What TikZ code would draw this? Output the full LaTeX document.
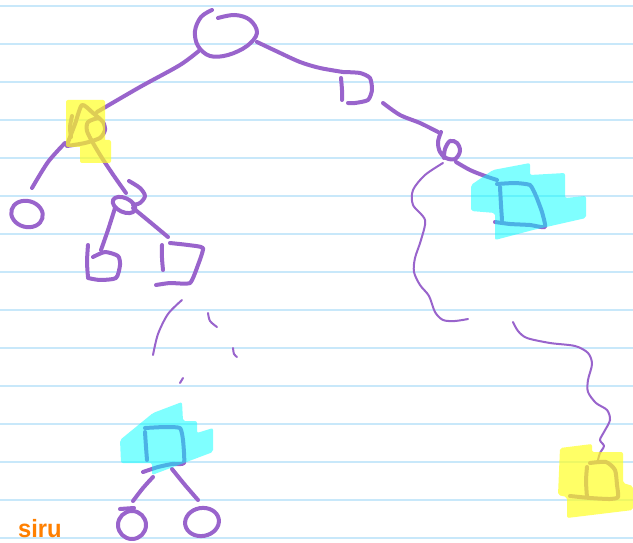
\documentclass[tikz,border=0pt]{standalone}
\usepackage{fontspec}
\newfontfamily\handfont{Liberation Sans}
\definecolor{ink}{RGB}{153,100,204}
\definecolor{rule}{RGB}{200,232,250}
\definecolor{hlyellow}{RGB}{255,255,30}
\definecolor{hlcyan}{RGB}{0,255,255}
\definecolor{sig}{RGB}{255,128,0}
\tikzset{
  pen/.style={draw=ink, line width=4pt, line cap=round, line join=round},
  thinpen/.style={draw=ink, line width=2pt, line cap=round, line join=round},
  ruling/.style={draw=rule, line width=1.5pt},
  hly/.style={fill=hlyellow, fill opacity=0.68, rounded corners=2pt},
  hlc/.style={fill=hlcyan, fill opacity=0.5, rounded corners=2pt},
}
\begin{document}
\begin{tikzpicture}[x=1pt,y=-1pt]
\useasboundingbox (0,0) rectangle (633,543);
\fill[white] (0,0) rectangle (633,543);
% ruled lines
\foreach \k in {0,...,14} { \draw[ruling] (0,{6+38*\k}) -- (633,{6+38*\k}); }

% root
\draw[pen] plot[smooth, tension=0.6] coordinates {(212,10)(201,17)(195,31)(198,46)(210,56)(228,55)(247,46)(257,33)(250,20)(235,15)(218,18)};
% root -> A
\draw[pen] plot[smooth] coordinates {(200,50)(180,65)(140,87)(97,112)};
% A
\draw[pen] plot[smooth] coordinates {(72,116)(70,127)(71,137)};
\draw[pen] plot[smooth, tension=0.4] coordinates {(67,145)(75,124)(82,105)(93,113)(103,122)(105,130)(100,138)(85,143)(67,146)};
\draw[pen] plot[smooth] coordinates {(98,118)(88,122)(87,131)(93,143)(102,158)(114,176)(126,193)};
% A -> LL
\draw[pen] plot[smooth] coordinates {(65,143)(48,162)(32,188)};
% LL
\draw[pen] (27,214) ellipse[x radius=16, y radius=13, rotate=-15];
% B
\draw[pen] (124,205) ellipse[x radius=12, y radius=7, rotate=-25];
\draw[pen] plot[smooth] coordinates {(129,181)(140,188)(145,196)(140,203)(133,205)};
% B -> BL, B -> BR
\draw[pen] plot[smooth] coordinates {(115,208)(108,230)(101,250)};
\draw[pen] plot[smooth] coordinates {(133,208)(150,222)(168,237)};
% BL
\draw[pen] plot[smooth] coordinates {(88,245)(87,262)(88,277)};
\draw[pen] plot[smooth, tension=0.4] coordinates {(93,257)(105,252)(118,256)(120,265)(116,278)(100,280)(88,278)};
% BR
\draw[pen] plot[smooth] coordinates {(162,245)(162,258)(163,270)};
\draw[pen] plot[smooth, tension=0.3] coordinates {(170,243)(188,245)(203,248)(198,265)(190,283)(170,283)(156,285)};
% broken strokes below BR
\draw[thinpen] plot[smooth] coordinates {(182,300)(168,314)(158,334)(153,355)};
\draw[thinpen] plot[smooth] coordinates {(208,313)(210,321)(217,327)};
\draw[thinpen] plot[smooth] coordinates {(233,348)(234,354)(237,357)};
\draw[thinpen] (180,383) -- (183,378);
% G
\draw[pen] plot[smooth] coordinates {(145,432)(146,447)(147,460)};
\draw[pen] plot[smooth, tension=0.3] coordinates {(145,428)(165,427)(180,428)(183,440)(184,463)(172,464)(158,467)(143,472)};
% G -> GL, G -> GR
\draw[pen] plot[smooth] coordinates {(153,477)(143,488)(133,501)};
\draw[pen] plot[smooth] coordinates {(172,469)(185,485)(198,500)};
% GL, GR
\draw[pen] (132,525) ellipse[x radius=14, y radius=14];
\draw[pen] (120,509) -- (134,508);
\draw[pen] (202,522) ellipse[x radius=17, y radius=14, rotate=10];

% root -> C
\draw[pen] plot[smooth] coordinates {(257,42)(276,51)(300,62)(320,68)(343,72)};
% C
\draw[pen] plot[smooth] coordinates {(341,78)(342,90)(342,100)};
\draw[pen] plot[smooth, tension=0.4] coordinates {(343,72)(360,73)(370,78)(372,90)(368,100)(355,103)(348,103)};
% C -> D
\draw[pen] plot[smooth] coordinates {(383,103)(400,115)(420,123)(438,132)};
% D
\draw[pen] plot[smooth, tension=0.6] coordinates {(441,132)(438,142)(440,152)(446,158)(455,159)(460,151)(457,143)(450,141)(445,149)(444,158)};
% D -> E
\draw[pen] plot[smooth] coordinates {(456,162)(470,170)(485,176)(497,180)};
% E
\draw[pen] plot[smooth] coordinates {(500,187)(501,205)(502,220)};
\draw[pen] plot[smooth, tension=0.3] coordinates {(497,184)(515,183)(530,185)(536,196)(542,212)(545,227)(530,225)(510,224)(495,222)};
% wavy line from D
\draw[thinpen] plot[smooth] coordinates {(443,163)(425,175)(413,190)(413,205)(425,220)(421,240)(415,258)(414,272)(420,285)(429,296)(435,312)(443,320)(455,321)(468,319)};
\draw[thinpen] plot[smooth] coordinates {(513,322)(518,331)(527,338)(550,343)(575,346)(588,353)(592,364)(588,380)(588,392)(596,403)(607,410)(610,420)(604,432)(600,440)(604,446)(600,453)(598,460)};
% F
\draw[pen] plot[smooth] coordinates {(587,467)(586,481)(587,497)};
\draw[pen] plot[smooth, tension=0.4] coordinates {(590,463)(606,462)(615,470)(617,485)(618,497)(610,499)(590,498)(570,496)};

% highlights
\fill[hly] (66,100) rectangle (105,147) (80,140) rectangle (111,163);
\fill[hly] (560,448) -- (592,444) -- (592,452) -- (623,452) -- (623,483) -- (633,486) -- (633,510) -- (567,518) -- (567,497) -- (558,495) -- cycle;
\fill[hlc] (471,185) -- (493,170) -- (530,163) -- (530,175) -- (565,173) -- (565,198) -- (586,196) -- (586,218) -- (533,230) -- (495,240) -- (495,213) -- (471,211) -- cycle;
\fill[hlc] (120,440) -- (153,413) -- (182,402) -- (183,421) -- (197,421) -- (197,433) -- (213,428) -- (213,452) -- (152,475) -- (152,463) -- (121,463) -- cycle;

% signature
\node[text=sig, font=\handfont\bfseries\fontsize{25}{25}\selectfont, anchor=base west, inner sep=0pt, xscale=0.95] (sig) at (18,537) {siru};
\end{tikzpicture}
\end{document}
